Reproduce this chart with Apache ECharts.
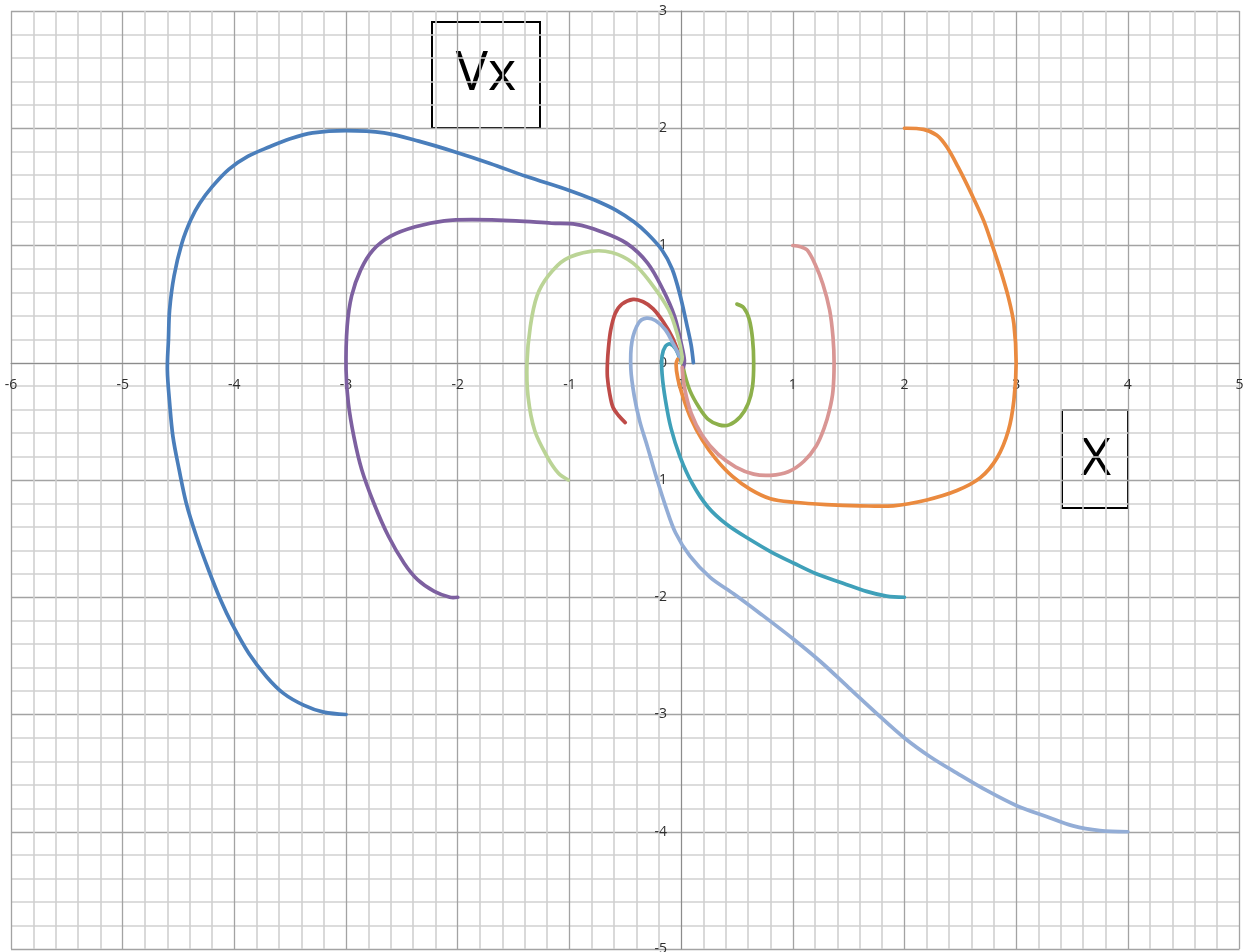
<!DOCTYPE html>
<html>
<head>
<meta charset="utf-8">
<title>Vx – X</title>
<script src="https://cdn.jsdelivr.net/npm/echarts@6/dist/echarts.min.js"></script>
<style>
  html, body { margin: 0; padding: 0; background: #ffffff; }
  #chart { width: 1254px; height: 952px; }
</style>
</head>
<body>
<div id="chart"></div>
<script>
// Phase trajectories: each array is a list of [x, vx] points, from start point to the origin.
const trajBlue = [[-3.00,-3.00],[-3.20,-2.98],[-3.38,-2.92],[-3.56,-2.82],[-3.71,-2.68],[-3.87,-2.48],[-4.02,-2.23],[-4.12,-2.03],[-4.23,-1.77],[-4.34,-1.48],[-4.43,-1.20],[-4.495,-0.91],[-4.55,-0.63],[-4.58,-0.34],[-4.60,-0.06],[-4.59,0.20],[-4.58,0.45],[-4.54,0.74],[-4.47,1.02],[-4.39,1.22],[-4.31,1.36],[-4.20,1.50],[-4.05,1.65],[-3.88,1.76],[-3.69,1.84],[-3.50,1.91],[-3.30,1.96],[-3.00,1.98],[-2.66,1.96],[-2.35,1.89],[-2.03,1.80],[-1.71,1.70],[-1.39,1.59],[-1.00,1.47],[-0.78,1.39],[-0.58,1.30],[-0.42,1.20],[-0.30,1.10],[-0.17,0.96],[-0.08,0.80],[-0.01,0.58],[0.05,0.33],[0.09,0.15],[0.11,0.00]];
const trajRed = [[-0.50,-0.51],[-0.56,-0.45],[-0.61,-0.38],[-0.64,-0.26],[-0.66,-0.12],[-0.66,-0.01],[-0.65,0.13],[-0.63,0.28],[-0.59,0.42],[-0.53,0.50],[-0.43,0.54],[-0.34,0.52],[-0.25,0.46],[-0.16,0.35],[-0.08,0.22],[-0.02,0.08],[0.00,0.01]];
const trajGreen = [[0.50,0.50],[0.56,0.47],[0.61,0.37],[0.64,0.20],[0.65,0.00],[0.64,-0.20],[0.60,-0.35],[0.53,-0.46],[0.43,-0.53],[0.34,-0.53],[0.24,-0.48],[0.16,-0.38],[0.08,-0.24],[0.03,-0.09],[0.015,-0.01]];
const trajPurple = [[-2.00,-2.00],[-2.07,-2.00],[-2.21,-1.95],[-2.36,-1.85],[-2.48,-1.71],[-2.62,-1.48],[-2.75,-1.20],[-2.86,-0.91],[-2.93,-0.63],[-2.98,-0.34],[-3.00,-0.06],[-2.99,0.31],[-2.95,0.57],[-2.87,0.79],[-2.76,0.96],[-2.60,1.08],[-2.38,1.16],[-2.12,1.21],[-1.87,1.22],[-1.48,1.21],[-1.16,1.19],[-0.94,1.18],[-0.72,1.12],[-0.49,1.02],[-0.30,0.85],[-0.16,0.62],[-0.06,0.40],[0.00,0.17],[0.03,0.02],[0.02,-0.04]];
const trajTeal = [[2.00,-2.00],[1.84,-1.99],[1.66,-1.95],[1.45,-1.88],[1.21,-1.80],[1.01,-1.71],[0.80,-1.61],[0.62,-1.51],[0.41,-1.38],[0.24,-1.23],[0.10,-1.03],[-0.01,-0.80],[-0.09,-0.56],[-0.14,-0.32],[-0.17,-0.10],[-0.17,0.06],[-0.14,0.14],[-0.10,0.16],[-0.05,0.12],[-0.01,0.03]];
const trajOrange = [[2.00,2.00],[2.17,1.99],[2.29,1.94],[2.38,1.84],[2.48,1.67],[2.60,1.44],[2.71,1.21],[2.78,1.02],[2.86,0.79],[2.93,0.56],[2.98,0.33],[3.00,0.00],[2.98,-0.32],[2.93,-0.58],[2.83,-0.81],[2.68,-0.98],[2.47,-1.09],[2.20,-1.17],[1.90,-1.22],[1.60,-1.22],[1.30,-1.21],[1.01,-1.19],[0.80,-1.16],[0.62,-1.08],[0.46,-0.97],[0.31,-0.82],[0.19,-0.66],[0.09,-0.48],[0.02,-0.30],[-0.03,-0.13],[-0.045,-0.01],[-0.03,0.03]];
const trajLightBlue = [[4.00,-4.00],[3.75,-3.99],[3.51,-3.95],[3.27,-3.87],[3.01,-3.78],[2.74,-3.65],[2.47,-3.50],[2.23,-3.36],[2.00,-3.20],[1.75,-2.99],[1.50,-2.77],[1.25,-2.55],[1.01,-2.36],[0.71,-2.14],[0.47,-1.97],[0.26,-1.83],[0.08,-1.65],[-0.05,-1.45],[-0.14,-1.22],[-0.22,-0.98],[-0.30,-0.72],[-0.37,-0.50],[-0.42,-0.28],[-0.45,-0.05],[-0.44,0.18],[-0.38,0.34],[-0.31,0.38],[-0.23,0.36],[-0.14,0.28],[-0.07,0.16],[-0.01,0.05]];
const trajPink = [[1.00,1.00],[1.07,0.99],[1.13,0.96],[1.20,0.84],[1.27,0.67],[1.33,0.45],[1.36,0.22],[1.37,0.00],[1.36,-0.24],[1.33,-0.40],[1.28,-0.56],[1.21,-0.71],[1.10,-0.84],[0.96,-0.93],[0.80,-0.96],[0.65,-0.95],[0.49,-0.89],[0.33,-0.78],[0.19,-0.62],[0.09,-0.43],[0.03,-0.21],[0.01,-0.04]];
const trajLightGreen = [[-1.01,-1.00],[-1.10,-0.94],[-1.20,-0.80],[-1.31,-0.58],[-1.37,-0.29],[-1.38,0.00],[-1.35,0.31],[-1.29,0.57],[-1.19,0.74],[-1.04,0.88],[-0.81,0.95],[-0.62,0.94],[-0.43,0.85],[-0.27,0.68],[-0.11,0.45],[-0.03,0.23],[0.01,0.05],[0.00,0.00]];

const seriesData = [trajBlue, trajRed, trajGreen, trajPurple, trajTeal, trajOrange, trajLightBlue, trajPink, trajLightGreen];
const seriesColors = ['#4A7EBB', '#BE4B48', '#8DB04B', '#7D60A0', '#3FA0B9', '#EA8A3F', '#93ADD6', '#D99694', '#BBD496'];

// Axis ranges
const xMin = -6, xMax = 5;
const yMin = -5, yMax = 3;

// Plot area margins (px)
const W = 1254, H = 952;
const gLeft = 11, gRight = 14.5, gTop = 11, gBottom = 3;
const gW = W - gLeft - gRight, gH = H - gTop - gBottom;

const chart = echarts.init(document.getElementById('chart'), null, { renderer: 'canvas' });

const labelStyle = { color: '#2e2e2e', fontSize: 14, fontFamily: 'Open Sans, Liberation Sans, sans-serif' };

// Axes cross at the origin: shift each axis from its edge to the zero of the other axis.
function makeAxis(min, max, isX) {
  const offset = isX ? -((0 - yMin) / (yMax - yMin)) * gH : -((0 - xMin) / (xMax - xMin)) * gW;
  return {
    type: 'value',
    position: isX ? 'bottom' : 'left',
    offset: offset,
    min: min,
    max: max,
    interval: 1,
    axisLine: { show: true, onZero: false, lineStyle: { color: '#8c8c8c', width: 1 } },
    axisTick: { show: false },
    minorTick: { show: false, splitNumber: 5 },
    axisLabel: Object.assign({ margin: isX ? 15 : 14, showMinLabel: true, showMaxLabel: true, hideOverlap: false }, labelStyle),
    splitLine: { show: true, lineStyle: { color: '#a3a3a3', width: 1.3 } },
    minorSplitLine: { show: true, lineStyle: { color: '#d0d0d0', width: 1.6 } }
  };
}

// Each trajectory is drawn as one smooth polyline through its points,
// positioned with the cartesian coordinate system (api.coord).
function trajectorySeries(points, color, idx) {
  return {
    type: 'custom',
    coordinateSystem: 'cartesian2d',
    data: points,
    encode: { x: 0, y: 1 },
    clip: true,
    silent: true,
    z: 3 + idx,
    renderItem: function (params, api) {
      if (params.dataIndex !== 0) return null;
      const pts = points.map(p => api.coord(p));
      return {
        type: 'polyline',
        shape: { points: pts, smooth: 0.33 },
        style: { stroke: color, lineWidth: 3.7, fill: null, lineCap: 'round', lineJoin: 'round' }
      };
    }
  };
}

chart.setOption({
  animation: false,
  backgroundColor: '#ffffff',
  grid: { left: gLeft, right: gRight, top: gTop, bottom: gBottom, containLabel: false, outerBoundsMode: 'none' },
  xAxis: makeAxis(xMin, xMax, true),
  yAxis: makeAxis(yMin, yMax, false),
  series: seriesData.map((d, i) => trajectorySeries(d, seriesColors[i], i)),
  graphic: [
    {
      type: 'group', left: 431, top: 21, z: 100,
      children: [
        { type: 'rect', shape: { x: 0, y: 0, width: 108, height: 106 },
          style: { fill: '#ffffff', stroke: '#000000', lineWidth: 2 } },
        { type: 'text', x: 54, y: 53,
          style: { text: 'Vx', fill: '#000000', lineWidth: 0, fontSize: 54, fontFamily: 'Open Sans', align: 'center', verticalAlign: 'middle' } }
      ]
    },
    {
      type: 'group', left: 1061, top: 409, z: 100,
      children: [
        { type: 'rect', shape: { x: 0, y: 0, width: 66, height: 98 },
          style: { fill: '#ffffff', stroke: '#000000', lineWidth: 2 } },
        { type: 'text', x: 34, y: 50,
          style: { text: 'X', fill: '#000000', lineWidth: 0, fontSize: 52, fontFamily: 'Open Sans', align: 'center', verticalAlign: 'middle' } }
      ]
    }
  ]
});
</script>
</body>
</html>
